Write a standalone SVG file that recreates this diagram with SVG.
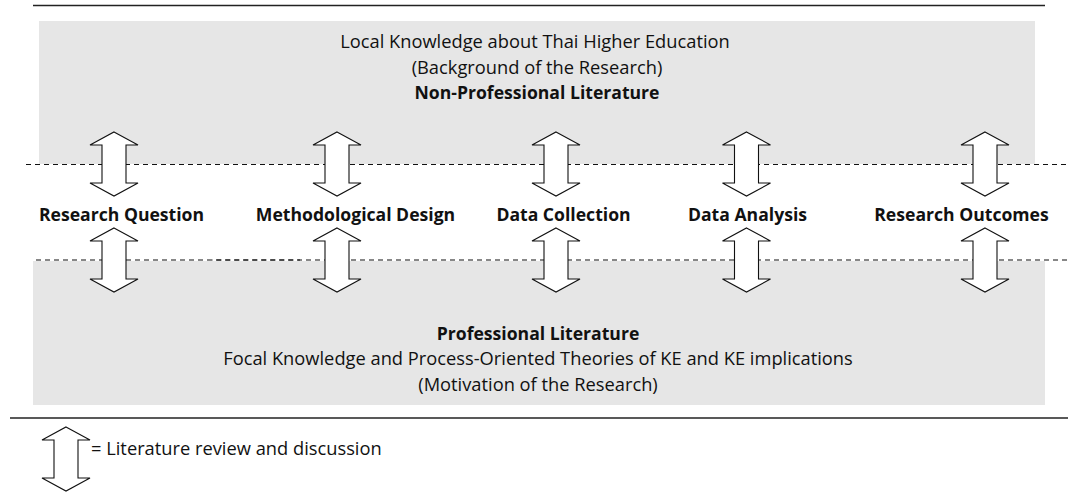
<svg xmlns="http://www.w3.org/2000/svg" xmlns:xlink="http://www.w3.org/1999/xlink" width="1068" height="493" viewBox="0 0 1068 493">
  <style>
    .band { fill: #e6e6e6; }
    .rule { stroke: #222; stroke-width: 1.6; fill: none; }
    .dash { stroke: #111; stroke-width: 1.2; stroke-dasharray: 5 4; fill: none; }
    .arrow { fill: #fff; stroke: #111; stroke-width: 1.1; stroke-linejoin: miter; }
    text { font-family: "Open Sans", "Liberation Sans", sans-serif; font-size: 18.3px; fill: #111; }
    .mid { text-anchor: middle; }
    .b { font-weight: bold; font-size: 17.6px; }
  </style>
  <defs>
    <!-- double-headed block arrow, 48 wide and 64 tall, top tip at origin -->
    <path id="dblArrow" class="arrow" d="M0,0 L24,13 L12,13 L12,51 L24,51 L0,64 L-24,51 L-12,51 L-12,13 L-24,13 Z"/>
  </defs>

  <!-- horizontal rules -->
  <line class="rule" x1="33" y1="5.5" x2="1045" y2="5.5"/>
  <line class="rule" x1="10" y1="418" x2="1068" y2="418"/>

  <!-- upper band: non-professional literature -->
  <g id="nonProfessional">
    <rect class="band" x="39" y="21" width="996" height="143"/>
    <text class="mid" x="535" y="48">Local Knowledge about Thai Higher Education</text>
    <text class="mid" x="537" y="73.5">(Background of the Research)</text>
    <text class="mid b" x="537" y="99">Non-Professional Literature</text>
  </g>

  <!-- lower band: professional literature -->
  <g id="professional">
    <rect class="band" x="33" y="261" width="1012" height="144"/>
    <text class="mid b" x="538" y="339.5">Professional Literature</text>
    <text class="mid" x="538" y="365">Focal Knowledge and Process-Oriented Theories of KE and KE implications</text>
    <text class="mid" x="538" y="391">(Motivation of the Research)</text>
  </g>

  <!-- band boundaries -->
  <g id="boundaries">
    <line class="dash" x1="26" y1="164.5" x2="1068" y2="164.5"/>
    <line class="dash" x1="36" y1="260" x2="1068" y2="260"/>
    <line class="dash" x1="212" y1="260" x2="300" y2="260" stroke-dashoffset="4.5"/>
  </g>

  <!-- research stages -->
  <g id="researchQuestion"><text class="mid b" x="121.5" y="221">Research Question</text></g>
  <g id="methodologicalDesign"><text class="mid b" x="355.5" y="221">Methodological Design</text></g>
  <g id="dataCollection"><text class="mid b" x="563.5" y="221">Data Collection</text></g>
  <g id="dataAnalysis"><text class="mid b" x="747.5" y="221">Data Analysis</text></g>
  <g id="researchOutcomes"><text class="mid b" x="961.5" y="221">Research Outcomes</text></g>

  <!-- literature review links between the stages and both bands -->
  <g id="connectors">
    <use xlink:href="#dblArrow" x="114" y="132"/>
    <use xlink:href="#dblArrow" x="114" y="228"/>
    <use xlink:href="#dblArrow" x="337" y="132"/>
    <use xlink:href="#dblArrow" x="337" y="228"/>
    <use xlink:href="#dblArrow" x="556" y="132"/>
    <use xlink:href="#dblArrow" x="556" y="228"/>
    <use xlink:href="#dblArrow" x="746.5" y="132"/>
    <use xlink:href="#dblArrow" x="746.5" y="228"/>
    <use xlink:href="#dblArrow" x="985" y="132"/>
    <use xlink:href="#dblArrow" x="985" y="228"/>
  </g>

  <!-- key -->
  <g id="legend">
    <use xlink:href="#dblArrow" x="66" y="427"/>
    <text x="91" y="455">= Literature review and discussion</text>
  </g>
</svg>
